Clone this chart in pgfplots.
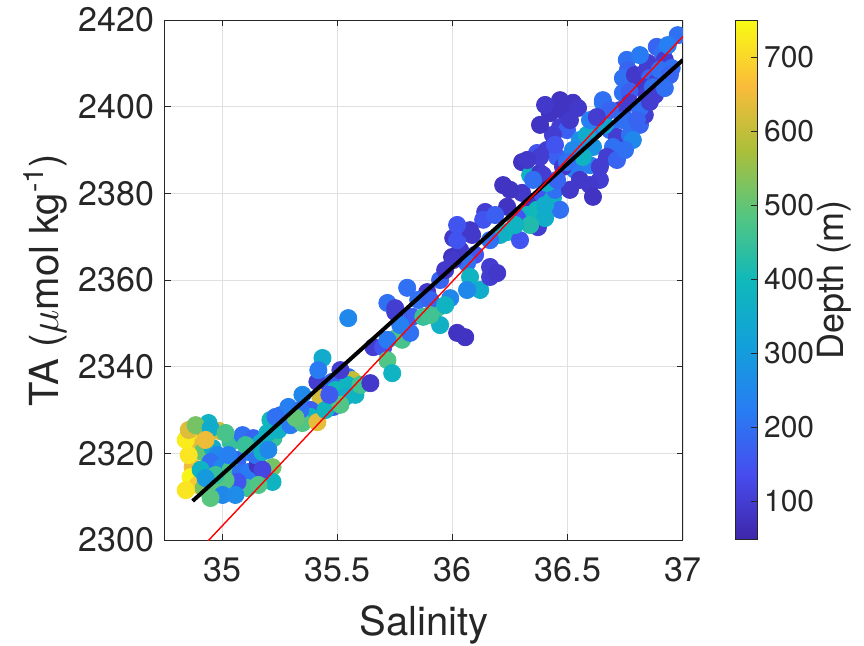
\documentclass[border=0pt]{standalone}
\usepackage{pgfplots}
\pgfplotsset{compat=1.18}
\usepackage{fontspec}
\setmainfont{TeX Gyre Heros}

% parula-like colour map
\pgfplotsset{
  colormap={parula}{
    rgb255=(62,38,168) rgb255=(71,76,238) rgb255=(40,125,243)
    rgb255=(18,160,218) rgb255=(16,184,186) rgb255=(85,198,128)
    rgb255=(172,191,58) rgb255=(250,188,58) rgb255=(249,251,20)
  }
}

\pgfplotstableread{
S TA d
34.874 2324.9 480
34.939 2327.0 380
34.983 2325.2 620
34.874 2322.4 700
34.879 2321.2 640
34.913 2320.3 500
34.870 2316.8 650
34.861 2314.5 740
34.892 2312.7 680
34.918 2312.0 520
34.961 2311.5 480
34.991 2310.8 500
34.957 2321.2 350
34.978 2319.6 250
34.948 2318.0 200
35.000 2316.8 250
35.035 2322.6 450
35.087 2324.2 200
35.134 2323.5 180
35.165 2322.4 350
35.113 2320.3 330
35.065 2318.5 180
35.035 2316.2 470
35.078 2315.5 200
35.113 2315.7 220
35.152 2317.3 80
35.108 2312.0 460
35.065 2313.4 150
35.208 2327.7 400
35.221 2323.5 450
35.195 2324.7 380
35.217 2316.8 520
35.217 2313.4 380
35.252 2328.8 180
35.273 2328.2 200
35.013 2313.8 480
35.000 2310.4 250
34.853 2319.6 720
34.905 2316.2 380
34.970 2315.0 450
34.926 2314.3 300
34.840 2323.1 730
34.853 2325.4 630
34.883 2326.5 520
34.948 2325.8 350
35.013 2324.7 470
34.926 2323.1 650
34.840 2311.5 720
34.948 2309.7 490
35.056 2310.4 260
35.143 2319.6 200
35.173 2320.3 370
35.100 2321.9 450
35.026 2319.6 230
35.173 2316.2 120
35.199 2320.8 250
35.243 2325.4 370
35.295 2326.5 220
35.156 2312.7 480
35.546 2351.2 250
35.750 2352.6 100
35.434 2342.0 350
35.412 2336.5 100
35.477 2336.5 180
35.546 2337.6 200
35.564 2336.9 600
35.542 2335.8 380
35.490 2334.6 400
35.425 2332.8 620
35.481 2332.3 480
35.533 2333.0 350
35.481 2330.7 170
35.347 2333.5 250
35.286 2330.7 230
35.382 2330.0 170
35.382 2328.4 380
35.347 2327.0 480
35.412 2327.2 640
35.230 2328.4 200
35.338 2330.0 200
35.447 2330.0 390
35.512 2331.2 480
35.577 2333.5 380
35.599 2335.8 460
35.317 2328.2 500
35.464 2333.5 160
35.512 2339.2 100
35.416 2339.2 220
35.642 2336.2 90
35.655 2344.5 100
35.698 2344.5 150
35.716 2341.5 480
35.737 2338.5 380
35.759 2346.8 480
35.802 2358.2 200
35.889 2357.2 90
35.945 2360.0 180
35.989 2355.8 250
35.716 2354.7 200
35.750 2353.5 100
35.824 2351.5 170
35.872 2351.5 450
35.932 2353.5 460
35.945 2349.6 370
36.019 2347.8 80
36.054 2346.8 80
35.780 2346.2 470
35.815 2347.8 200
35.716 2346.2 220
35.850 2355.4 200
35.902 2355.4 180
35.967 2354.2 380
35.772 2349.6 230
35.902 2351.9 460
35.967 2362.3 90
36.032 2366.9 90
36.097 2365.8 150
36.002 2369.7 90
36.084 2370.4 90
35.997 2365.3 80
36.019 2369.2 150
36.062 2363.9 200
36.075 2360.7 380
36.119 2357.7 350
36.062 2357.7 250
36.162 2363.0 100
36.162 2360.7 100
36.002 2364.6 90
36.193 2361.6 90
36.219 2381.9 80
36.301 2387.2 80
36.336 2384.2 380
36.379 2384.7 90
36.344 2378.0 80
36.236 2376.9 80
36.301 2380.1 90
36.392 2379.6 150
36.435 2378.9 380
36.466 2376.2 200
36.323 2375.0 380
36.279 2374.3 150
36.370 2372.2 100
36.240 2371.1 400
36.206 2370.4 370
36.292 2369.2 150
36.141 2375.7 100
36.132 2373.9 150
36.075 2371.5 90
36.019 2372.7 150
36.162 2369.2 200
36.366 2376.2 400
36.401 2374.3 360
36.336 2372.7 420
36.249 2380.8 80
36.184 2375.0 170
36.271 2372.7 380
36.401 2377.3 350
36.444 2380.8 200
36.509 2380.8 90
36.531 2385.4 220
36.596 2386.5 230
36.639 2383.1 100
36.596 2381.9 90
36.366 2389.3 150
36.409 2390.0 100
36.453 2388.4 170
36.479 2386.1 90
36.409 2382.4 360
36.453 2383.1 180
36.422 2398.5 80
36.479 2399.2 80
36.522 2400.9 80
36.544 2399.7 90
36.466 2395.3 100
36.496 2394.6 170
36.435 2393.5 100
36.466 2401.5 80
36.401 2400.4 90
36.509 2396.9 90
36.379 2395.8 80
36.444 2391.2 150
36.552 2392.3 270
36.617 2394.6 220
36.652 2400.9 250
36.639 2397.6 200
36.583 2393.5 350
36.609 2390.7 280
36.565 2388.4 380
36.522 2390.0 250
36.496 2387.2 200
36.683 2394.6 200
36.713 2393.0 100
36.696 2390.7 200
36.670 2388.4 100
36.639 2386.1 100
36.713 2387.7 180
36.552 2383.1 90
36.379 2388.4 100
36.323 2387.7 90
36.392 2384.2 100
36.349 2383.1 200
36.739 2403.2 200
36.756 2396.9 180
36.609 2379.2 80
36.769 2393.5 200
36.813 2395.8 180
36.661 2395.8 330
36.596 2396.9 230
36.782 2392.3 250
36.748 2390.0 200
36.726 2399.2 100
36.834 2398.1 100
36.977 2416.5 200
36.886 2413.8 180
36.912 2412.4 200
36.848 2410.1 100
36.756 2410.8 200
36.761 2408.5 180
36.739 2406.6 200
36.791 2407.3 90
36.843 2408.5 100
36.856 2406.6 180
36.886 2405.5 100
36.826 2404.5 90
36.769 2403.4 170
36.843 2402.7 100
36.869 2404.5 200
36.652 2401.5 200
36.683 2399.2 180
36.626 2397.6 100
36.769 2400.9 100
36.813 2399.7 200
36.856 2401.1 100
36.739 2396.9 200
36.800 2396.9 180
36.921 2410.8 100
36.951 2408.9 200
36.899 2408.5 200
36.943 2407.3 180
36.934 2414.2 230
36.813 2411.9 220
36.878 2402.7 100
36.921 2404.3 200
}\samples

\begin{document}
\begin{tikzpicture}
\path[use as bounding box] (-82.5pt,-52.5pt) rectangle (349.5pt,270pt);
\begin{axis}[
  at={(0,0)}, anchor=south west,
  scale only axis, width=259pt, height=260pt,
  xmin=34.75, xmax=37, ymin=2300, ymax=2420,
  xtick={35,35.5,36,36.5,37},
  ytick={2300,2320,2340,2360,2380,2400,2420},
  /pgf/number format/.cd, 1000 sep={}, assume math mode=true,
  /pgfplots/.cd,
  clip marker paths=true,
  tick align=inside,
  major tick length=3pt,
  axis line style={draw=black!85, line width=0.5pt},
  every tick/.style={draw=black!85, line width=0.5pt},
  grid=major,
  major grid style={draw=black!12, line width=0.4pt},
  ticklabel style={font=\fontsize{17}{20}\selectfont, text=black!85},
  xticklabel style={yshift=-5pt},
  yticklabel style={xshift=-2pt},
  xlabel={Salinity},
  ylabel={TA ($\mu$mol kg\textsuperscript{-1})},
  label style={font=\fontsize{20}{24}\selectfont, text=black!85},
  xlabel style={at={(axis description cs:0.5,-0.163)}, anchor=center},
  ylabel style={at={(axis description cs:-0.2317,0.5)}, anchor=center},
  point meta min=48, point meta max=750,
  colormap name=parula,
  colorbar,
  colorbar style={
    at={(parent axis.north east)}, anchor=north west, xshift=17.5pt,
    width=11pt,
    ytick={100,200,300,400,500,600,700},
    /pgf/number format/assume math mode=true,
    ytick pos=right,
    tick align=inside,
    major tick length=3pt,
    axis line style={draw=black!85, line width=0.5pt},
    every tick/.style={draw=black!85, line width=0.5pt},
    yticklabel style={font=\fontsize{15}{18}\selectfont, text=black!85},
    ylabel={Depth (m)},
    ylabel style={font=\fontsize{18}{22}\selectfont, text=black!85,
      at={(axis description cs:4.5,0.5)}, anchor=center},
  },
]
\addplot[scatter, only marks, mark=*, mark size=4.3pt,
  scatter src=explicit,
  scatter/use mapped color={draw=mapped color, fill=mapped color}]
  table[x=S, y=TA, meta=d] {\samples};
% least-squares fit
\addplot[black, line width=2pt, no marks] coordinates {(34.87,2309.0) (37,2410.8)};
% reference relation
\addplot[red, line width=0.7pt, no marks] coordinates {(34.90,2297.7) (37,2416.2)};
\end{axis}
\end{tikzpicture}
\end{document}
